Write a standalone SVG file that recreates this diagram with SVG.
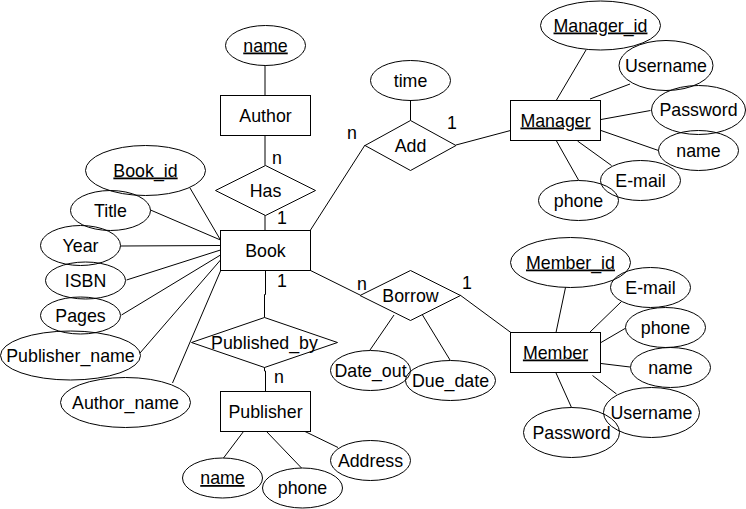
<svg xmlns="http://www.w3.org/2000/svg" width="746" height="509" viewBox="0 0 746 509">
  <style>
    .ent { fill: #ffffff; stroke: #000000; stroke-width: 1; }
    .attr { fill: none; stroke: #000000; stroke-width: 1; }
    .rel { fill: #ffffff; stroke: #000000; stroke-width: 1; }
    .ln { fill: none; stroke: #000000; stroke-width: 1; }
    .vl { fill: none; stroke: #000000; stroke-width: 1; }
    text { font-family: "Liberation Sans", Arial, sans-serif; font-size: 17.8px; fill: #000000; text-anchor: middle; }
    .key { text-decoration: underline; }
  </style>
  <rect width="746" height="509" fill="#ffffff"/>

  <!-- connectors -->
  <g id="connectors">
    <!-- Author / Has / Book -->
    <line class="vl" x1="265" y1="65" x2="265" y2="95.5"/>
    <line class="vl" x1="265" y1="135.5" x2="265" y2="165.5"/>
    <line class="vl" x1="265" y1="215" x2="265" y2="230.5"/>
    <!-- Book / Published_by / Publisher -->
    <polyline class="vl" points="265.5,270.5 265.5,294.5 264.5,294.5 264.5,317.5"/>
    <polyline class="vl" points="264.5,367 264.5,371 265.5,371 265.5,391.5"/>
    <!-- Book attributes -->
    <line class="ln" x1="190" y1="188" x2="220.5" y2="240"/>
    <line class="ln" x1="150.5" y1="210" x2="220.5" y2="240"/>
    <line class="vl" x1="120.5" y1="246" x2="220.5" y2="245.5"/>
    <line class="ln" x1="126.5" y1="280" x2="220.5" y2="250"/>
    <line class="ln" x1="121.5" y1="315" x2="220.5" y2="255"/>
    <line class="ln" x1="140" y1="353" x2="220.5" y2="260"/>
    <line class="ln" x1="172.5" y1="383" x2="220.5" y2="271"/>
    <!-- Book / Add / Manager -->
    <line class="ln" x1="310.5" y1="230" x2="365" y2="145"/>
    <line class="ln" x1="410.5" y1="100" x2="410.5" y2="120.5"/>
    <line class="ln" x1="456" y1="145" x2="510.5" y2="130.5"/>
    <!-- Manager attributes -->
    <line class="ln" x1="556.5" y1="100" x2="586" y2="50"/>
    <line class="ln" x1="590" y1="99" x2="630" y2="84"/>
    <line class="ln" x1="601" y1="119.5" x2="650.5" y2="110.5"/>
    <line class="ln" x1="601" y1="130.5" x2="658.5" y2="150.5"/>
    <line class="ln" x1="577.5" y1="141" x2="611.5" y2="165.5"/>
    <line class="ln" x1="556.5" y1="141" x2="578.5" y2="180"/>
    <!-- Book / Borrow / Member -->
    <line class="ln" x1="310.5" y1="270.5" x2="360" y2="295"/>
    <line class="ln" x1="460" y1="295" x2="511.5" y2="333"/>
    <line class="ln" x1="394" y1="315" x2="370" y2="350"/>
    <line class="ln" x1="422.5" y1="315" x2="450" y2="360"/>
    <!-- Member attributes -->
    <line class="ln" x1="556" y1="332.5" x2="565.5" y2="287.5"/>
    <line class="ln" x1="589.5" y1="332.5" x2="621.5" y2="301.5"/>
    <line class="ln" x1="601" y1="342.5" x2="625" y2="328.5"/>
    <line class="ln" x1="601" y1="363.5" x2="630" y2="367"/>
    <line class="ln" x1="592.5" y1="375.5" x2="616.5" y2="394"/>
    <line class="ln" x1="556" y1="373" x2="571.5" y2="407.5"/>
    <!-- Publisher attributes -->
    <line class="ln" x1="243.5" y1="431.5" x2="223.5" y2="458"/>
    <line class="ln" x1="266.5" y1="431.5" x2="301.5" y2="468"/>
    <line class="ln" x1="305" y1="431.5" x2="338" y2="447.5"/>

    <!-- cardinalities -->
    <text x="277" y="164">n</text>
    <text x="282" y="224">1</text>
    <text x="282" y="287">1</text>
    <text x="279" y="383">n</text>
    <text x="352" y="139">n</text>
    <text x="452" y="129">1</text>
    <text x="362" y="290">n</text>
    <text x="467" y="289">1</text>
  </g>

  <!-- entities -->
  <g id="author">
    <rect class="ent" x="220.5" y="95.5" width="90" height="40"/>
    <text x="265.5" y="121.5">Author</text>
  </g>
  <g id="author-name">
    <ellipse class="attr" cx="265.5" cy="45.5" rx="40" ry="20"/>
    <text class="key" x="265.5" y="51.5">name</text>
  </g>
  <g id="has">
    <polygon class="rel" points="215.5,190.5 265.5,165.5 315.5,190.5 265.5,215.5"/>
    <text x="265.5" y="196.5">Has</text>
  </g>
  <g id="book">
    <rect class="ent" x="220.5" y="230.5" width="90" height="40"/>
    <text x="265.5" y="256.5">Book</text>
  </g>
  <g id="book-id">
    <ellipse class="attr" cx="145.5" cy="170.5" rx="60" ry="25"/>
    <text class="key" x="145.5" y="176.5">Book_id</text>
  </g>
  <g id="book-title">
    <ellipse class="attr" cx="110.5" cy="210.5" rx="40" ry="20"/>
    <text x="110.5" y="216.5">Title</text>
  </g>
  <g id="book-year">
    <ellipse class="attr" cx="80.5" cy="245.5" rx="40" ry="20"/>
    <text x="80.5" y="251.5">Year</text>
  </g>
  <g id="book-isbn">
    <ellipse class="attr" cx="85.5" cy="280.5" rx="40" ry="18.5"/>
    <text x="85.5" y="286.5">ISBN</text>
  </g>
  <g id="book-pages">
    <ellipse class="attr" cx="80.5" cy="315.5" rx="40" ry="18.5"/>
    <text x="80.5" y="321.5">Pages</text>
  </g>
  <g id="book-publisher-name">
    <ellipse class="attr" cx="70.5" cy="355.5" rx="70" ry="24.5"/>
    <text x="70.5" y="361.5">Publisher_name</text>
  </g>
  <g id="book-author-name">
    <ellipse class="attr" cx="125.5" cy="402.5" rx="65" ry="25"/>
    <text x="125.5" y="408.5">Author_name</text>
  </g>

  <g id="published-by">
    <polygon class="rel" points="191.5,342.5 264.5,317.5 337.5,342.5 264.5,367.5"/>
    <text x="264.5" y="348.5">Published_by</text>
  </g>
  <g id="publisher">
    <rect class="ent" x="220.5" y="391.5" width="90" height="40"/>
    <text x="265.5" y="417.5">Publisher</text>
  </g>
  <g id="publisher-name">
    <ellipse class="attr" cx="222.5" cy="478" rx="40" ry="20"/>
    <text class="key" x="222.5" y="484">name</text>
  </g>
  <g id="publisher-phone">
    <ellipse class="attr" cx="302.5" cy="488" rx="40" ry="20"/>
    <text x="302.5" y="494">phone</text>
  </g>
  <g id="publisher-address">
    <ellipse class="attr" cx="370.5" cy="460.5" rx="40" ry="20"/>
    <text x="370.5" y="466.5">Address</text>
  </g>

  <g id="add">
    <polygon class="rel" points="365,145.5 410.5,120.5 456,145.5 410.5,170.5"/>
    <text x="410.5" y="151.5">Add</text>
  </g>
  <g id="add-time">
    <ellipse class="attr" cx="410.5" cy="80.5" rx="40" ry="20"/>
    <text x="410.5" y="86.5">time</text>
  </g>
  <g id="manager">
    <rect class="ent" x="510.5" y="100.5" width="90" height="40"/>
    <text class="key" x="555.5" y="126.5">Manager</text>
  </g>
  <g id="manager-id">
    <ellipse class="attr" cx="600.5" cy="25.5" rx="60" ry="24.5"/>
    <text class="key" x="600.5" y="31.5">Manager_id</text>
  </g>
  <g id="manager-username">
    <ellipse class="attr" cx="666" cy="65.5" rx="47" ry="25"/>
    <text x="666" y="71.5">Username</text>
  </g>
  <g id="manager-password">
    <ellipse class="attr" cx="698.5" cy="110" rx="47" ry="24.5"/>
    <text x="698.5" y="116">Password</text>
  </g>
  <g id="manager-name">
    <ellipse class="attr" cx="698.5" cy="150.5" rx="40" ry="20"/>
    <text x="698.5" y="156.5">name</text>
  </g>
  <g id="manager-email">
    <ellipse class="attr" cx="640.5" cy="180.5" rx="40" ry="20"/>
    <text x="640.5" y="186.5">E-mail</text>
  </g>
  <g id="manager-phone">
    <ellipse class="attr" cx="578.5" cy="200.5" rx="40" ry="20"/>
    <text x="578.5" y="206.5">phone</text>
  </g>

  <g id="borrow">
    <polygon class="rel" points="360,295.5 410.5,270.5 460.5,295.5 410.5,320.5"/>
    <text x="410.5" y="301.5">Borrow</text>
  </g>
  <g id="borrow-date-out">
    <ellipse class="attr" cx="370.5" cy="370.5" rx="40" ry="20"/>
    <text x="370.5" y="376.5">Date_out</text>
  </g>
  <g id="borrow-due-date">
    <ellipse class="attr" cx="450.5" cy="380.5" rx="45" ry="20"/>
    <text x="450.5" y="386.5">Due_date</text>
  </g>
  <g id="member">
    <rect class="ent" x="510.5" y="332.5" width="90" height="40"/>
    <text class="key" x="555.5" y="358.5">Member</text>
  </g>
  <g id="member-id">
    <ellipse class="attr" cx="570.5" cy="262.5" rx="60" ry="25"/>
    <text class="key" x="570.5" y="268.5">Member_id</text>
  </g>
  <g id="member-email">
    <ellipse class="attr" cx="650.5" cy="287.5" rx="40" ry="20"/>
    <text x="650.5" y="293.5">E-mail</text>
  </g>
  <g id="member-phone">
    <ellipse class="attr" cx="665.5" cy="327.5" rx="40" ry="20"/>
    <text x="665.5" y="333.5">phone</text>
  </g>
  <g id="member-name">
    <ellipse class="attr" cx="670.5" cy="367.5" rx="40" ry="20"/>
    <text x="670.5" y="373.5">name</text>
  </g>
  <g id="member-username">
    <ellipse class="attr" cx="651.5" cy="412.5" rx="48" ry="25"/>
    <text x="651.5" y="418.5">Username</text>
  </g>
  <g id="member-password">
    <ellipse class="attr" cx="571.5" cy="432.5" rx="48" ry="25"/>
    <text x="571.5" y="438.5">Password</text>
  </g>
</svg>
